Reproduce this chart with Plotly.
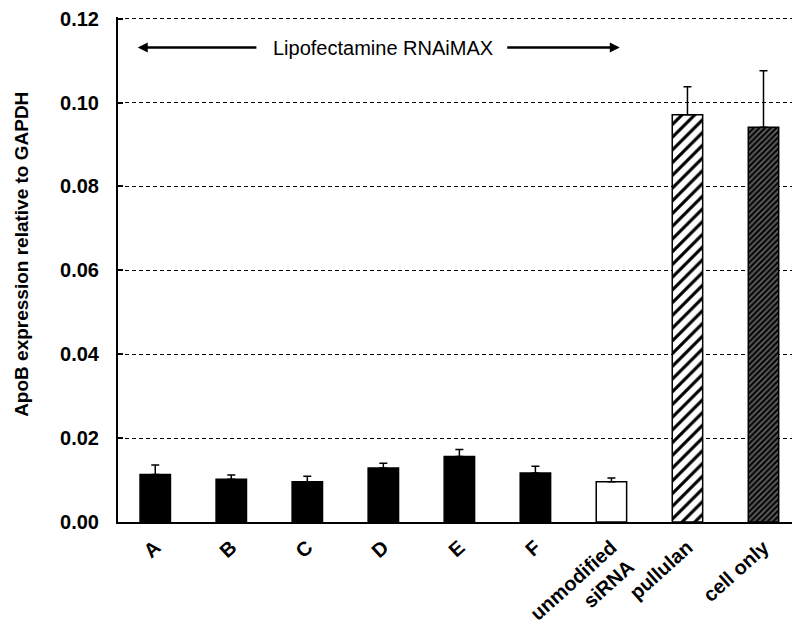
import plotly.graph_objects as go

# ApoB knockdown: expression relative to GAPDH for each siRNA treatment
categories = ["A", "B", "C", "D", "E", "F", "unmodified<br>siRNA", "pullulan", "cell only"]
values = [0.0113, 0.0102, 0.0096, 0.0129, 0.0156, 0.0117, 0.0096, 0.0971, 0.0941]
errors = [0.0023, 0.0010, 0.0013, 0.0011, 0.0017, 0.0016, 0.0009, 0.0067, 0.0135]

# bar styles: solid black for A-F, open for unmodified, hatched for the controls
groups = [
    dict(idx=[0, 1, 2, 3, 4, 5], color="black", shape="", size=8, solidity=0.3),
    dict(idx=[6], color="white", shape="", size=8, solidity=0.3),
    dict(idx=[7], color="white", shape="/", size=9, solidity=0.35),
    dict(idx=[8], color="#5c5c5c", shape="/", size=4, solidity=0.5),
]

FONT = "Liberation Sans, Arial, sans-serif"

fig = go.Figure()
for g in groups:
    fig.add_trace(go.Bar(
        x=[categories[i] for i in g["idx"]],
        y=[values[i] for i in g["idx"]],
        width=0.4,
        marker=dict(
            color=g["color"],
            line=dict(color="black", width=1.5),
            pattern=dict(shape=g["shape"], size=g["size"], solidity=g["solidity"],
                         fgcolor="black", bgcolor=g["color"], fillmode="replace"),
        ),
        error_y=dict(type="data", array=[errors[i] for i in g["idx"]],
                     arrayminus=[0] * len(g["idx"]), symmetric=False,
                     color="black", thickness=1.5, width=4),
        showlegend=False,
    ))

# "Lipofectamine RNAiMAX" bracket spanning the transfected groups
label_y = 0.1131
fig.add_annotation(x=3.0, y=label_y, xref="x", yref="y", text="Lipofectamine RNAiMAX",
                   showarrow=False, font=dict(family=FONT, size=20, color="black"))
fig.add_annotation(x=-0.23, y=label_y, ax=1.35, ay=label_y, xref="x", yref="y",
                   axref="x", ayref="y", text="", showarrow=True,
                   arrowhead=2, arrowsize=0.8, arrowwidth=2.5, arrowcolor="black")
fig.add_annotation(x=6.11, y=label_y, ax=4.61, ay=label_y, xref="x", yref="y",
                   axref="x", ayref="y", text="", showarrow=True,
                   arrowhead=2, arrowsize=0.8, arrowwidth=2.5, arrowcolor="black")

# y-axis title
fig.add_annotation(x=-96 / 674, y=0.529, xref="paper", yref="paper",
                   text="<b>ApoB expression relative to GAPDH</b>", textangle=-90,
                   showarrow=False, xanchor="center", yanchor="middle",
                   font=dict(family=FONT, size=19, color="black"))

fig.update_layout(
    width=792, height=626,
    margin=dict(l=118, r=0, t=17, b=104),
    paper_bgcolor="white", plot_bgcolor="white",
    font=dict(family=FONT, color="black"),
    barmode="overlay",
)
fig.update_xaxes(
    categoryorder="array", categoryarray=categories,
    range=[-0.49, 8.375], automargin=False,
    showline=True, linecolor="black", linewidth=2,
    showgrid=False, ticks="",
    tickangle=-42,
    tickfont=dict(family=FONT, size=20, color="black", weight="bold"),
    ticklabelstandoff=4,
)
fig.update_yaxes(
    range=[0, 0.1204], automargin=False,
    tickvals=[0, 0.02, 0.04, 0.06, 0.08, 0.10, 0.12],
    tickformat=".2f",
    showline=True, linecolor="black", linewidth=2,
    ticks="inside", ticklen=5, tickwidth=2, tickcolor="black",
    showgrid=True, gridcolor="black", gridwidth=1, griddash="4px,3px",
    zeroline=False,
    tickfont=dict(family=FONT, size=20, color="black", weight="bold"),
    ticklabelstandoff=13,
)

fig.write_html("out.html")
